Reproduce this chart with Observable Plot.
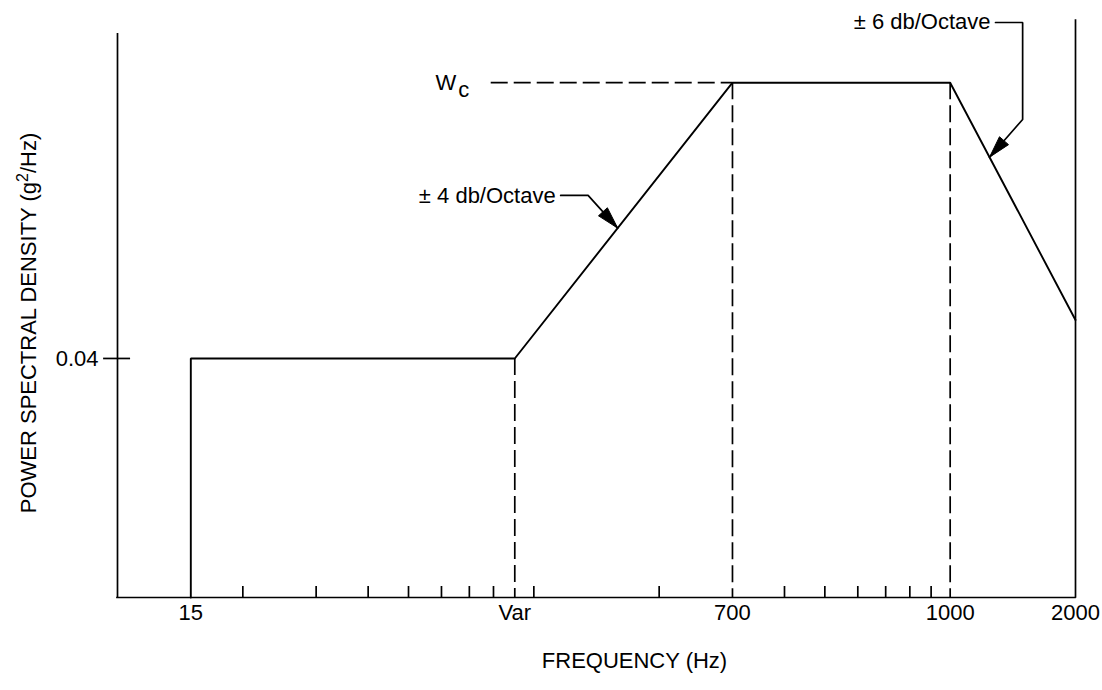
<!DOCTYPE html>
<html>
<head>
<meta charset="utf-8">
<script src="https://cdn.jsdelivr.net/npm/d3@7"></script>
<script src="https://cdn.jsdelivr.net/npm/@observablehq/plot@0.6"></script>
<style>
  html, body { margin: 0; padding: 0; background: #fff; }
  svg { display: block; }
</style>
</head>
<body>
<div id="chart"></div>
<script>
// ---- data (frequency in Hz on the schematic's log axis, PSD in g²/Hz) ----
const profileFreq = [15, 15, 90, 300, 1000, 2000];
const profilePsd  = [0.01, 0.04, 0.04, 0.198, 0.198, 0.05];
const wcLevel = 0.198;
const wcDashStart = 79;
const dashFreq = [90, 300, 1000];
const dashTop  = [0.04, 0.198, 0.198];
const minorTicks = [20, 30, 40, 50, 60, 70, 80, 100, 200, 400, 500, 600, 700, 800, 900];
const labelTicks = [15, 90, 300, 1000, 2000];
const tickLabels = ["15", "Var", "700", "1000", "2000"];
const yTicks = [0.04];
const yTickLabels = ["0.04"];
const leader4Freq = [116, 135, 159];
const leader4Psd  = [0.103, 0.103, 0.0852];
const leader6Freq = [1285, 1493, 1493, 1243];
const leader6Psd  = [0.2807, 0.2807, 0.160, 0.1285];
const annotText = ["± 4 db/Octave", "± 6 db/Octave"];
const wcLabelFreq = 65.5;
const xTitle = "FREQUENCY (Hz)";
const yTitleParts = ["POWER SPECTRAL DENSITY (g", "2", "/Hz)"];
const yTitle = yTitleParts.join("");

// ---- layout ----
const width = 1102, height = 690;
const marginLeft = 117, marginRight = 27, marginTop = 20, marginBottom = 93;
const xDomain = [10, 2000], yDomain = [0.01, 0.284];
const font = "'Liberation Sans', Arial, Helvetica, sans-serif";
const fs = 22;
const sw = 1.7;

const profile = profileFreq.map((f, i) => ({f, p: profilePsd[i]}));
const dashes = dashFreq.map((f, i) => ({f, top: dashTop[i]}));
const leader4 = leader4Freq.map((f, i) => ({f, p: leader4Psd[i]}));
const leader6 = leader6Freq.map((f, i) => ({f, p: leader6Psd[i]}));
const xLabels = labelTicks.map((f, i) => ({f, label: tickLabels[i]}));
const yLabels = yTicks.map((p, i) => ({p, label: yTickLabels[i]}));

// helper scales only for orienting the arrowheads along their leaders
const xs = d3.scaleLog().domain(xDomain).range([marginLeft, width - marginRight]);
const ys = d3.scaleLog().domain(yDomain).range([height - marginBottom, marginTop]);
function head(from, tip, L = 22, W = 6) {
  const dx = xs(tip.f) - xs(from.f), dy = ys(tip.p) - ys(from.p);
  const n = Math.hypot(dx, dy), ux = dx / n, uy = dy / n;
  return {
    draw(ctx) {
      ctx.moveTo(0, 0);
      ctx.lineTo(-L * ux - W * uy, -L * uy + W * ux);
      ctx.lineTo(-L * ux + W * uy, -L * uy - W * ux);
      ctx.closePath();
    }
  };
}

const chart = Plot.plot({
  width, height, marginLeft, marginRight, marginTop, marginBottom,
  style: {fontFamily: font, fontSize: fs + "px", color: "black", background: "white"},
  x: {type: "log", domain: xDomain},
  y: {type: "log", domain: yDomain, axis: null},
  marks: [
    // frame: left axis, bottom axis, right edge
    Plot.ruleX([10], {y1: 0.01, y2: 0.262, strokeWidth: sw, strokeLinecap: "square"}),
    Plot.ruleY([0.01], {x1: 10, x2: 2000, strokeWidth: sw, strokeLinecap: "square"}),
    Plot.ruleX([2000], {y1: 0.01, y2: 0.284, strokeWidth: sw, strokeLinecap: "square"}),
    // minor ticks pointing up into the plot
    Plot.axisX(minorTicks, {tickSize: 11, dy: -11, tickFormat: () => "", label: null, strokeWidth: sw}),
    // labelled ticks
    Plot.text(xLabels, {x: "f", text: "label", frameAnchor: "bottom", dy: 22, fontSize: fs}),
    // y tick at 0.04
    Plot.ruleY(yTicks, {x1: 9.26, x2: 10.75, strokeWidth: sw}),
    Plot.text(yLabels, {y: "p", text: "label", frameAnchor: "left", dx: -19, textAnchor: "end", fontSize: fs}),
    // dashed guides
    Plot.ruleX(dashes, {x: "f", y1: "top", y2: 0.01, strokeWidth: sw, strokeDasharray: "17,6"}),
    Plot.ruleY([wcLevel], {x1: wcDashStart, x2: 300, strokeWidth: sw, strokeDasharray: "17,6"}),
    // spectrum profile
    Plot.line(profile, {x: "f", y: "p", strokeWidth: 1.9, strokeLinejoin: "miter"}),
    // annotations with leaders
    Plot.line(leader4, {x: "f", y: "p", strokeWidth: sw, strokeLinejoin: "miter"}),
    Plot.line(leader6, {x: "f", y: "p", strokeWidth: sw, strokeLinejoin: "miter"}),
    Plot.dot([leader4[2]], {x: "f", y: "p", r: 5, symbol: head(leader4[1], leader4[2]), fill: "black", stroke: "black", strokeWidth: 1}),
    Plot.dot([leader6[3]], {x: "f", y: "p", r: 5, symbol: head(leader6[2], leader6[3]), fill: "black", stroke: "black", strokeWidth: 1}),
    Plot.text([leader4[0]], {x: "f", y: "p", text: () => annotText[0], textAnchor: "end", dx: -5, dy: 1, fontSize: fs}),
    Plot.text([leader6[0]], {x: "f", y: "p", text: () => annotText[1], textAnchor: "end", dx: -5, dy: -1, fontSize: fs}),
    // W_c label
    Plot.text([wcLevel], {x: () => wcLabelFreq, y: d => d, text: () => "W", textAnchor: "end", dx: -1, dy: 0, fontSize: fs}),
    Plot.text([wcLevel], {x: () => wcLabelFreq, y: d => d, text: () => "c", textAnchor: "start", dx: 1, dy: 7, fontSize: fs}),
    // axis titles
    Plot.text([xTitle], {frameAnchor: "bottom", text: d => d, dx: 38, dy: 70, fontSize: fs}),
    Plot.text([yTitle], {frameAnchor: "left", text: d => d, textAnchor: "middle", dx: -89, dy: 14, rotate: -90, fontSize: fs})
  ]
});

document.getElementById("chart").appendChild(chart);

// render the "2" in g2/Hz as a superscript
d3.select(chart).selectAll("text").filter(function () { return this.textContent === yTitle; })
  .each(function () {
    const t = d3.select(this);
    t.text(null);
    t.append("tspan").text(yTitleParts[0]);
    t.append("tspan").attr("font-size", 16).attr("dy", -8).text(yTitleParts[1]);
    t.append("tspan").attr("dy", 8).text(yTitleParts[2]);
  });
</script>
</body>
</html>
